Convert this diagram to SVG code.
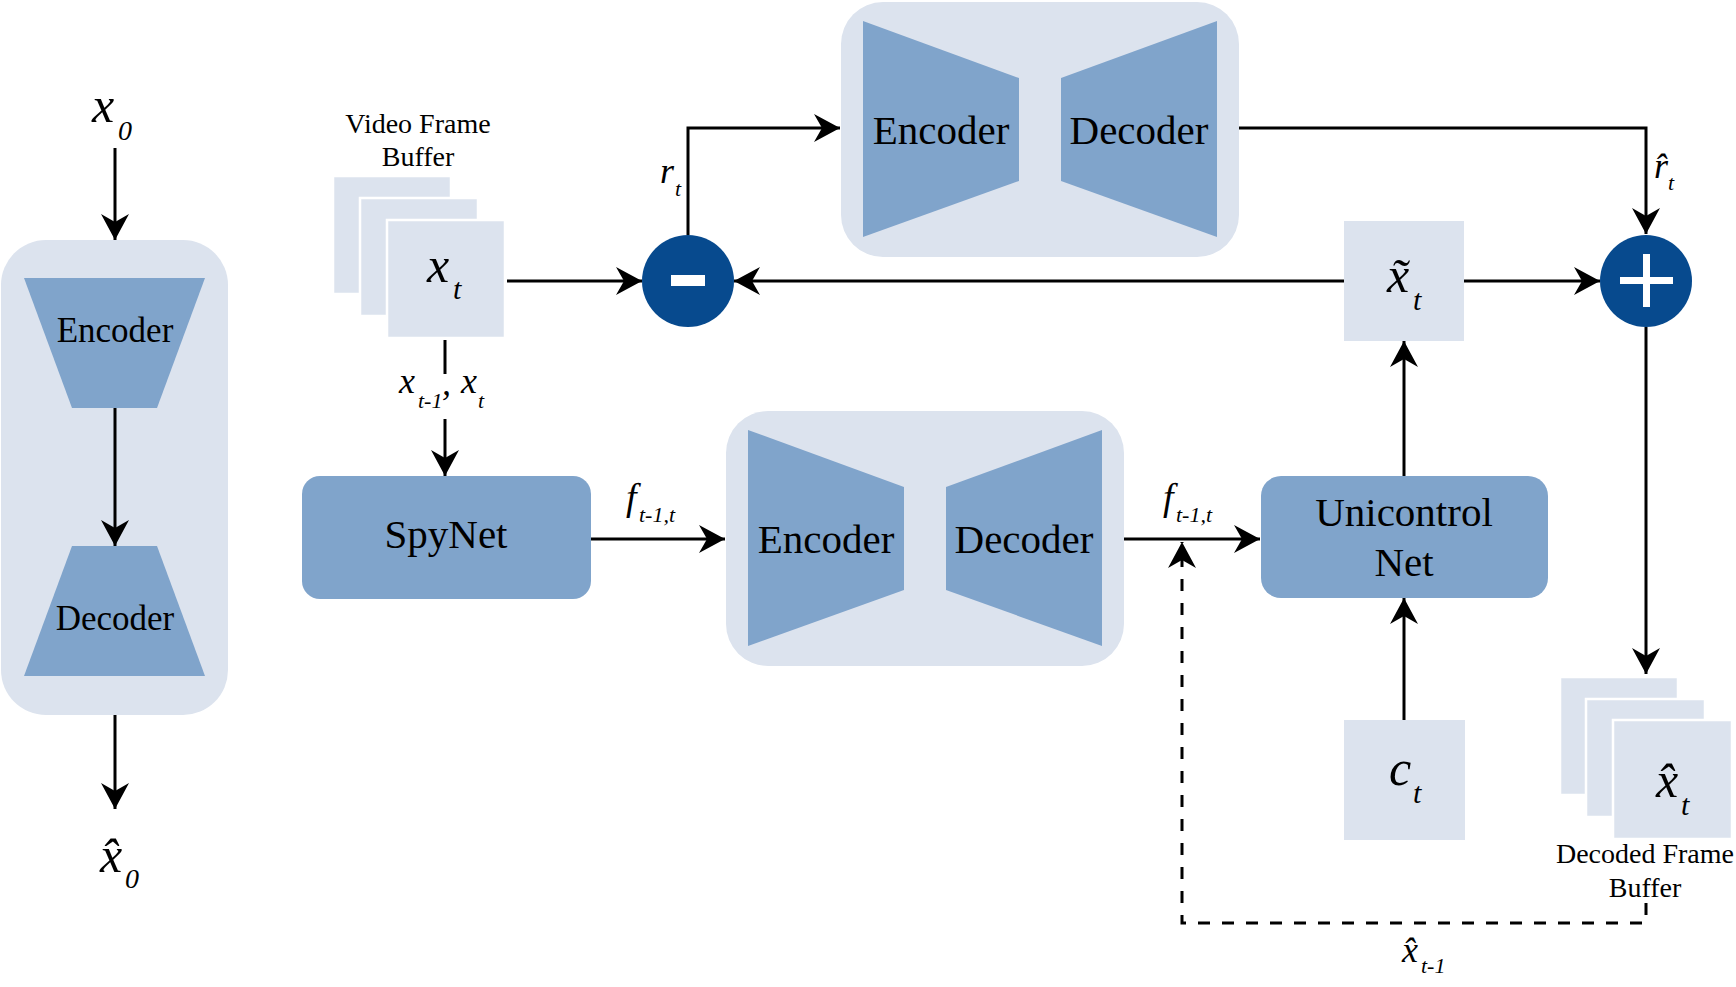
<svg xmlns="http://www.w3.org/2000/svg" width="1736" height="987" viewBox="0 0 1736 987">
<style>
text{font-family:"Liberation Serif","Times New Roman",serif;fill:#000}
.it{font-style:italic}
.bg{fill:#DCE3EE}
.blk{fill:#80A4CB}
.frm{fill:#DCE3EE;stroke:#fff;stroke-width:2.5}
.op{fill:#074A8E}
.ln{fill:none;stroke:#000;stroke-width:3}
.dash{fill:none;stroke:#000;stroke-width:3;stroke-dasharray:12 12}
.lbl{font-size:41px;text-anchor:middle}
.cap{font-size:28px;text-anchor:middle}
</style>
<defs>
<marker id="ah" markerWidth="30" markerHeight="30" viewBox="-27 -15 30 30" refX="0" refY="0" orient="auto" markerUnits="userSpaceOnUse">
<path d="M0,0 L-26,-14 L-18,0 L-26,14 Z" fill="#000"/>
</marker>
</defs>
<rect width="1736" height="987" fill="#fff"/>

<g id="intra-codec">
<rect class="bg" x="1" y="240" width="227" height="475" rx="45"/>
<polygon class="blk" points="24,278 205,278 157,408 72,408"/>
<polygon class="blk" points="72,546 157,546 205,676 24,676"/>
<text class="lbl" x="115" y="342" style="font-size:35px">Encoder</text>
<text class="lbl" x="115" y="630" style="font-size:35px">Decoder</text>
</g>

<g id="x0-label">
<text class="it"><tspan x="92" y="122" font-size="50">x</tspan><tspan x="118" y="140" font-size="28">0</tspan></text>
</g>
<g id="x0hat-label">
<text class="it"><tspan x="100" y="872" font-size="50">x̂</tspan><tspan x="125" y="888" font-size="28">0</tspan></text>
</g>

<g id="video-frame-buffer">
<text class="cap" x="418" y="133">Video Frame</text>
<text class="cap" x="418" y="166">Buffer</text>
<rect class="frm" x="333" y="176" width="118" height="118"/>
<rect class="frm" x="360" y="198" width="118" height="118"/>
<rect class="frm" x="387" y="220" width="118" height="118"/>
<text class="it"><tspan x="427" y="282" font-size="50">x</tspan><tspan x="453" y="299" font-size="30">t</tspan></text>
</g>

<g id="subtract">
<circle class="op" cx="688" cy="281" r="46"/>
<rect x="671" y="275" width="34" height="11" fill="#fff"/>
</g>

<g id="add">
<circle class="op" cx="1646" cy="281" r="46"/>
<rect x="1620" y="277" width="53" height="7" fill="#fff"/>
<rect x="1643" y="254" width="7" height="53" fill="#fff"/>
</g>

<g id="residual-codec">
<rect class="bg" x="841" y="2" width="398" height="255" rx="42"/>
<polygon class="blk" points="863,21 1019,78 1019,181 863,237"/>
<polygon class="blk" points="1061,78 1217,21 1217,237 1061,181"/>
<text class="lbl" x="941" y="144">Encoder</text>
<text class="lbl" x="1139" y="144">Decoder</text>
</g>

<g id="motion-codec">
<rect class="bg" x="726" y="411" width="398" height="255" rx="42"/>
<polygon class="blk" points="748,430 904,487 904,590 748,646"/>
<polygon class="blk" points="946,487 1102,430 1102,646 946,590"/>
<text class="lbl" x="826" y="553">Encoder</text>
<text class="lbl" x="1024" y="553">Decoder</text>
</g>

<g id="spynet">
<rect class="blk" x="302" y="476" width="289" height="123" rx="18"/>
<text class="lbl" x="446" y="548">SpyNet</text>
</g>

<g id="unicontrol-net">
<rect class="blk" x="1261" y="476" width="287" height="122" rx="20"/>
<text class="lbl" x="1404" y="526">Unicontrol</text>
<text class="lbl" x="1404" y="576">Net</text>
</g>

<g id="x-tilde">
<rect class="bg" x="1344" y="221" width="120" height="120"/>
<text class="it"><tspan x="1387" y="292" font-size="50">x̃</tspan><tspan x="1413" y="310" font-size="30">t</tspan></text>
</g>

<g id="condition">
<rect class="bg" x="1344" y="720" width="121" height="120"/>
<text class="it"><tspan x="1389" y="785" font-size="50">c</tspan><tspan x="1413" y="803" font-size="30">t</tspan></text>
</g>

<g id="decoded-frame-buffer">
<rect class="frm" x="1560" y="677" width="118" height="118"/>
<rect class="frm" x="1586" y="699" width="119" height="118"/>
<rect class="frm" x="1613" y="720" width="119" height="119"/>
<text class="it"><tspan x="1656" y="797" font-size="50">x̂</tspan><tspan x="1681" y="815" font-size="30">t</tspan></text>
<text class="cap" x="1645" y="863">Decoded Frame</text>
<text class="cap" x="1645" y="897">Buffer</text>
</g>

<g id="connectors">
<path class="ln" d="M115,148 V240" marker-end="url(#ah)"/>
<path class="ln" d="M115,408 V546" marker-end="url(#ah)"/>
<path class="ln" d="M115,715 V809" marker-end="url(#ah)"/>
<path class="ln" d="M507,281 H642" marker-end="url(#ah)"/>
<path class="ln" d="M688,235 V128 H840" marker-end="url(#ah)"/>
<path class="ln" d="M1239,128 H1646 V234" marker-end="url(#ah)"/>
<path class="ln" d="M1344,281 H734" marker-end="url(#ah)"/>
<path class="ln" d="M1464,281 H1600" marker-end="url(#ah)"/>
<path class="ln" d="M1646,327 V674" marker-end="url(#ah)"/>
<path class="ln" d="M1404,476 V341" marker-end="url(#ah)"/>
<path class="ln" d="M1404,720 V598" marker-end="url(#ah)"/>
<path class="ln" d="M445,340 V374"/>
<path class="ln" d="M445,419 V476" marker-end="url(#ah)"/>
<path class="ln" d="M591,539 H725" marker-end="url(#ah)"/>
<path class="ln" d="M1124,539 H1260" marker-end="url(#ah)"/>
<path class="dash" d="M1646,903 V923 H1182 V542" marker-end="url(#ah)"/>
</g>

<g id="edge-labels">
<text class="it"><tspan x="660" y="183" font-size="36">r</tspan><tspan x="675" y="196" font-size="22">t</tspan></text>
<text class="it"><tspan x="1654" y="178" font-size="36">r̂</tspan><tspan x="1668" y="190" font-size="22">t</tspan></text>
<text class="it"><tspan x="399" y="393" font-size="36">x</tspan><tspan x="418" y="408" font-size="22">t-1</tspan><tspan x="442" y="395" font-size="36">,</tspan><tspan x="461" y="393" font-size="36">x</tspan><tspan x="478" y="408" font-size="22">t</tspan></text>
<text class="it"><tspan x="626" y="510" font-size="38">f</tspan><tspan x="639" y="522" font-size="22">t-1,t</tspan></text>
<text class="it"><tspan x="1163" y="510" font-size="38">f</tspan><tspan x="1176" y="522" font-size="22">t-1,t</tspan></text>
<text class="it"><tspan x="1402" y="962" font-size="36">x̂</tspan><tspan x="1421" y="973" font-size="22">t-1</tspan></text>
</g>
</svg>
